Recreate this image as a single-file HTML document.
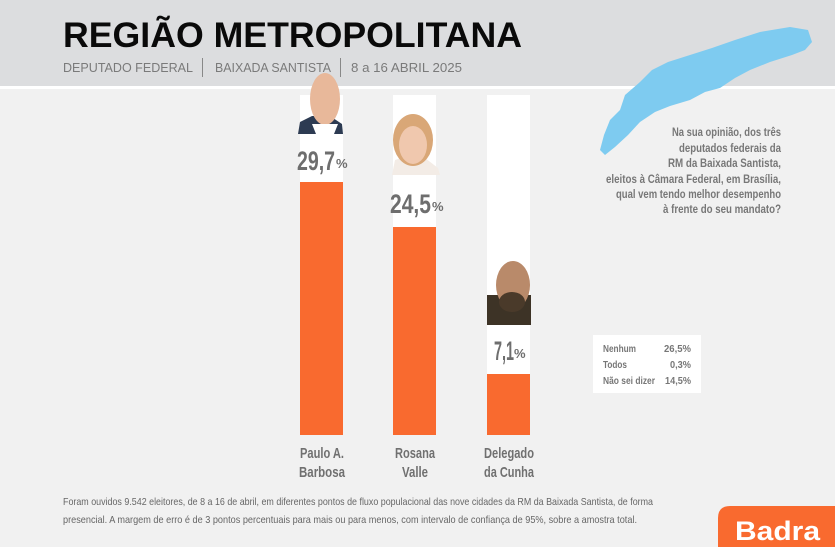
<!DOCTYPE html>
<html><head><meta charset="utf-8"><style>
html,body{margin:0;padding:0;background:#f1f1f1}
svg{display:block}
text{font-family:"Liberation Sans",sans-serif}
</style></head><body>
<svg width="835" height="547" viewBox="0 0 835 547" xmlns="http://www.w3.org/2000/svg">
<rect x="0" y="0" width="835" height="547" fill="#f1f1f1"/>
<rect x="0" y="0" width="835" height="86" fill="#dcdddf"/>
<rect x="0" y="86" width="835" height="3" fill="#ffffff"/>
<text x="63" y="47" font-size="35" font-weight="bold" fill="#0a0a0a" textLength="459" lengthAdjust="spacingAndGlyphs">REGIÃO METROPOLITANA</text>
<text x="63" y="72" font-size="13" fill="#7a7a7a" textLength="130" lengthAdjust="spacingAndGlyphs">DEPUTADO FEDERAL</text>
<rect x="202" y="58" width="1" height="19" fill="#888"/>
<text x="215" y="72" font-size="13" fill="#7a7a7a" textLength="116" lengthAdjust="spacingAndGlyphs">BAIXADA SANTISTA</text>
<rect x="340" y="58" width="1" height="19" fill="#888"/>
<text x="351" y="72" font-size="13" fill="#7a7a7a" textLength="111" lengthAdjust="spacingAndGlyphs">8 a 16 ABRIL 2025</text>
<!-- map -->
<polygon fill="#7ecbf0" points="600,150 604,135 610,120 620,110 625,95 640,82 652,70 668,62 690,55 712,48 735,40 760,32 790,27 808,30 812,42 805,50 792,55 770,62 750,70 735,78 720,88 705,92 690,100 670,106 655,112 640,122 628,135 615,147 605,155"/>
<!-- columns -->
<rect x="300" y="95" width="43" height="340" fill="#ffffff"/>
<rect x="300" y="182" width="43" height="253" fill="#f96a2f"/>
<rect x="393" y="95" width="43" height="340" fill="#ffffff"/>
<rect x="393" y="227" width="43" height="208" fill="#f96a2f"/>
<rect x="487" y="95" width="43" height="340" fill="#ffffff"/>
<rect x="487" y="374" width="43" height="61" fill="#f96a2f"/>
<!-- faces -->
<path d="M298,134 L300,122 L312,116 L330,116 L342,124 L343,134 Z" fill="#2d3b52"/>
<ellipse cx="325" cy="99" rx="15" ry="26" fill="#e8b89a"/>
<path d="M312,124 L338,124 L334,134 L316,134 Z" fill="#ffffff"/>
<path d="M392,175 L395,160 L410,155 L425,158 L438,168 L440,175 Z" fill="#f3ece6"/>
<ellipse cx="413" cy="140" rx="20" ry="26" fill="#d9a777"/>
<ellipse cx="413" cy="145" rx="14" ry="19" fill="#f0c8ae"/>
<rect x="487" y="295" width="44" height="30" fill="#3d3326"/>
<ellipse cx="513" cy="285" rx="17" ry="24" fill="#b98a6a"/>
<ellipse cx="512" cy="302" rx="13" ry="10" fill="#4a3a2a"/>
<!-- values -->
<text x="297" y="170" font-size="27" font-weight="bold" fill="#6e6e6e" textLength="38" lengthAdjust="spacingAndGlyphs">29,7</text>
<text x="336" y="168" font-size="13" font-weight="bold" fill="#6e6e6e">%</text>
<text x="390" y="213" font-size="27" font-weight="bold" fill="#6e6e6e" textLength="41" lengthAdjust="spacingAndGlyphs">24,5</text>
<text x="432" y="211" font-size="13" font-weight="bold" fill="#6e6e6e">%</text>
<text x="494" y="360" font-size="27" font-weight="bold" fill="#6e6e6e" textLength="20" lengthAdjust="spacingAndGlyphs">7,1</text>
<text x="514" y="358" font-size="13" font-weight="bold" fill="#6e6e6e">%</text>
<!-- names -->
<g font-size="15" font-weight="bold" fill="#707070" text-anchor="middle">
<text x="322" y="458" textLength="44" lengthAdjust="spacingAndGlyphs">Paulo A.</text>
<text x="322" y="477" textLength="46" lengthAdjust="spacingAndGlyphs">Barbosa</text>
<text x="415" y="458" textLength="40" lengthAdjust="spacingAndGlyphs">Rosana</text>
<text x="415" y="477" textLength="26" lengthAdjust="spacingAndGlyphs">Valle</text>
<text x="509" y="458" textLength="50" lengthAdjust="spacingAndGlyphs">Delegado</text>
<text x="509" y="477" textLength="50" lengthAdjust="spacingAndGlyphs">da Cunha</text>
</g>
<!-- question -->
<g font-size="12" font-weight="bold" fill="#777" text-anchor="end">
<text x="781" y="136" textLength="109" lengthAdjust="spacingAndGlyphs">Na sua opinião, dos três</text>
<text x="781" y="152" textLength="102" lengthAdjust="spacingAndGlyphs">deputados federais da</text>
<text x="781" y="167" textLength="113" lengthAdjust="spacingAndGlyphs">RM da Baixada Santista,</text>
<text x="781" y="183" textLength="175" lengthAdjust="spacingAndGlyphs">eleitos à Câmara Federal, em Brasília,</text>
<text x="781" y="198" textLength="165" lengthAdjust="spacingAndGlyphs">qual vem tendo melhor desempenho</text>
<text x="781" y="213" textLength="118" lengthAdjust="spacingAndGlyphs">à frente do seu mandato?</text>
</g>
<!-- legend -->
<rect x="593" y="335" width="108" height="58" fill="#ffffff"/>
<g font-size="10.5" font-weight="bold" fill="#777">
<text x="603" y="352" textLength="33" lengthAdjust="spacingAndGlyphs">Nenhum</text>
<text x="603" y="368" textLength="24" lengthAdjust="spacingAndGlyphs">Todos</text>
<text x="603" y="384" textLength="52" lengthAdjust="spacingAndGlyphs">Não sei dizer</text>
<text x="691" y="352" text-anchor="end" textLength="27" lengthAdjust="spacingAndGlyphs">26,5%</text>
<text x="691" y="368" text-anchor="end" textLength="21" lengthAdjust="spacingAndGlyphs">0,3%</text>
<text x="691" y="384" text-anchor="end" textLength="26" lengthAdjust="spacingAndGlyphs">14,5%</text>
</g>
<!-- footer -->
<g font-size="10.5" fill="#666">
<text x="63" y="505" textLength="590" lengthAdjust="spacingAndGlyphs">Foram ouvidos 9.542 eleitores, de 8 a 16 de abril, em diferentes pontos de fluxo populacional das nove cidades da RM da Baixada Santista, de forma</text>
<text x="63" y="523" textLength="574" lengthAdjust="spacingAndGlyphs">presencial. A margem de erro é de 3 pontos percentuais para mais ou para menos, com intervalo de confiança de 95%, sobre a amostra total.</text>
</g>
<!-- logo -->
<path d="M718,547 L718,518 Q718,506 730,506 L835,506 L835,547 Z" fill="#f96a2f"/>
<text x="735" y="540" font-size="27" font-weight="bold" fill="#ffffff" textLength="85" lengthAdjust="spacingAndGlyphs">Badra</text>
</svg>
</body></html>
